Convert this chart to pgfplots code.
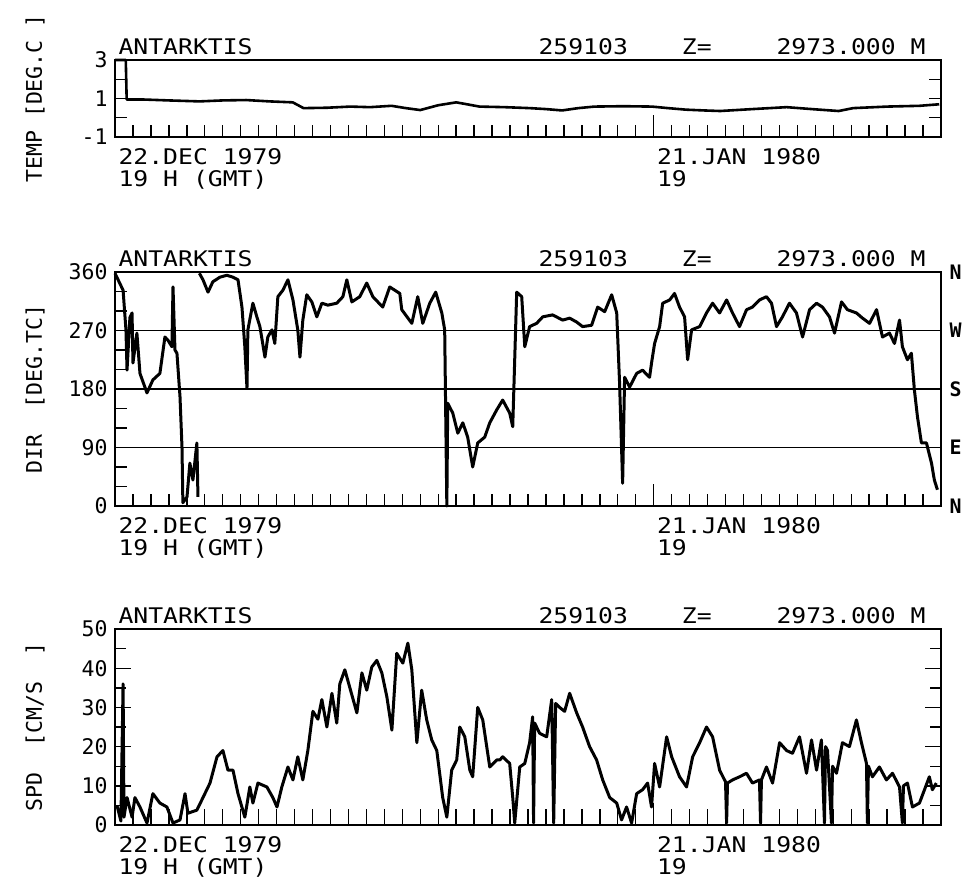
\documentclass[border=0pt]{standalone}
\usepackage{pgfplots}
\pgfplotsset{compat=1.18}
\usepackage{fontspec}
\setmainfont{DejaVu Sans Mono}[FakeStretch=1.15]
\newfontfamily\tickfam{DejaVu Sans Mono}
\newcommand\lab{\fontsize{21.6}{26}\selectfont}
\newcommand\tck{\tickfam\fontsize{21.6}{26}\selectfont}
\newcommand\rlab{\tickfam\bfseries\fontsize{20}{24}\selectfont}
\pgfplotsset{
  antark/.style={
    scale only axis, width=826bp, xmin=0, xmax=46,
    anchor=south west, clip=false, no markers,
    xtick={1,...,45}, xticklabels={}, xtick pos=left,
    extra x ticks={30}, extra x tick labels={},
    extra x tick style={major tick length=22bp},
    tick align=inside,
    major tick length=12bp, minor tick length=12bp,
    every tick/.style={black, line width=1.4bp},
    axis line style={black, line width=1.8bp},
    yticklabel style={font=\tck, xshift=-4bp},
    /pgf/number format/assume math mode=true,
    every axis y label/.style={at={(rel axis cs:0,0.5)}, xshift=-80bp, rotate=90, anchor=center, font=\tck},
  }
}
\newcommand\heads{%
  \node[anchor=base west, font=\lab, yshift=6bp] at (rel axis cs:0,1) {ANTARKTIS};
  \node[anchor=base west, font=\lab, yshift=6bp] at (rel axis cs:0.5085,1) {259103};
  \node[anchor=base west, font=\lab, yshift=6bp] at (rel axis cs:0.682,1) {Z=};
  \node[anchor=base west, font=\lab, yshift=6bp] at (rel axis cs:0.7966,1) {2973.000 M};
  \node[anchor=base west, font=\lab, yshift=-27bp] at (rel axis cs:0,0) {22.DEC 1979};
  \node[anchor=base west, font=\lab, yshift=-49bp] at (rel axis cs:0,0) {19 H (GMT)};
  \node[anchor=base west, font=\lab, yshift=-27bp] at (rel axis cs:0.652,0) {21.JAN 1980};
  \node[anchor=base west, font=\lab, yshift=-49bp] at (rel axis cs:0.652,0) {19};
}
\begin{document}
\begin{tikzpicture}
\path[use as bounding box, fill=white] (0,0) rectangle (966bp,-881bp);

% ---------------- TEMP ----------------
\begin{axis}[antark, at={(115bp,-137bp)}, height=77bp,
  ymin=-1, ymax=3, ytick={-1,1,3}, minor ytick={0,2},
  ylabel={TEMP [DEG.C~]}]
\addplot[black, line width=2.6bp, line join=round] coordinates {
(0,3) (0.6,3) (0.65,0.95) (1.5,0.95) (3.0,0.9) (4.7,0.85) (6.0,0.9) (7.3,0.92)
(8.6,0.85) (9.9,0.8) (10.5,0.5) (11.8,0.52) (13.1,0.58) (14.2,0.55) (15.4,0.62)
(16.2,0.5) (17.0,0.4) (18.0,0.65) (19.0,0.8) (19.6,0.7) (20.3,0.58) (21.7,0.55)
(23.1,0.5) (24.0,0.45) (24.9,0.38) (25.8,0.5) (26.7,0.58) (28.3,0.6) (29.9,0.58)
(30.8,0.5) (31.8,0.42) (32.8,0.38) (33.7,0.35) (35.5,0.45) (37.4,0.55) (38.8,0.45)
(40.3,0.35) (41.1,0.5) (43.0,0.58) (44.8,0.62) (45.9,0.7)
};
\heads
\end{axis}

% ---------------- DIR ----------------
\begin{axis}[antark, at={(115bp,-506bp)}, height=234bp,
  ymin=0, ymax=360, ytick={0,90,180,270,360}, ytick pos=left,
  minor ytick={30,60,120,150,210,240,300,330},
  ymajorgrids, major grid style={black, line width=1.6bp},
  unbounded coords=jump,
  ylabel={DIR~~[DEG.TC]}]
\addplot[black, line width=3bp, line join=round] coordinates {
(0,358) (0.45,332) (0.61,271) (0.67,209) (0.83,290) (0.95,297) (1.00,220) (1.22,266)
(1.39,204) (1.78,174) (2.11,194) (2.50,204) (2.78,260) (2.95,255) (3.17,245) (3.23,337)
(3.34,240) (3.45,235) (3.62,168) (3.73,91) (3.78,5) (4.01,14) (4.17,66) (4.34,40)
(4.56,97) (4.62,14) (4.66,nan)
(4.70,358) (4.90,348) (5.18,329) (5.45,345) (5.84,352) (6.23,355) (6.57,352) (6.85,348)
(7.07,306) (7.23,245) (7.35,181) (7.40,271) (7.68,312) (7.90,291) (8.07,276) (8.35,229)
(8.51,260) (8.74,271) (8.90,250) (9.07,322) (9.35,332) (9.63,348) (9.91,317) (10.18,271)
(10.30,229) (10.46,286) (10.68,325) (10.96,314) (11.24,291) (11.52,312) (11.85,309)
(12.35,312) (12.69,322) (12.91,348) (13.19,314) (13.63,322) (14.02,343) (14.36,322)
(14.91,306) (15.30,337) (15.86,327) (15.97,302) (16.53,281) (16.86,322) (17.14,281)
(17.53,312) (17.86,329) (18.20,297) (18.36,271) (18.48,0) (18.53,158) (18.81,143)
(19.09,112) (19.37,128) (19.64,106) (19.92,60) (20.20,97) (20.59,106) (20.87,128)
(21.26,148) (21.59,163) (21.98,143) (22.15,122) (22.37,329) (22.65,322) (22.82,245)
(23.09,276) (23.48,281) (23.82,291) (24.37,294) (24.93,286) (25.32,289) (25.71,283)
(26.04,276) (26.54,278) (26.88,306) (27.27,299) (27.66,325) (27.94,297) (28.10,189)
(28.27,35) (28.38,198) (28.66,183) (29.05,204) (29.38,209) (29.77,198) (29.88,220)
(30.05,250) (30.33,276) (30.50,312) (30.89,317) (31.16,327) (31.44,306) (31.72,291)
(31.89,225) (32.11,271) (32.56,276) (32.94,297) (33.28,312) (33.67,297) (34.06,317)
(34.39,297) (34.78,276) (35.17,302) (35.50,306) (35.89,317) (36.28,322) (36.56,312)
(36.84,276) (37.17,291) (37.56,312) (37.95,297) (38.29,260) (38.68,302) (39.07,312)
(39.40,306) (39.79,291) (40.07,266) (40.46,314) (40.79,302) (41.29,297) (41.63,289)
(42.02,281) (42.41,302) (42.74,260) (43.13,266) (43.41,250) (43.69,286) (43.85,245)
(44.13,225) (44.35,235) (44.52,178) (44.69,137) (44.91,97) (45.19,97) (45.47,66)
(45.63,40) (45.80,25)
};
\heads
\node[anchor=west, font=\rlab, xshift=5bp] at (rel axis cs:1,1) {N};
\node[anchor=west, font=\rlab, xshift=5bp] at (rel axis cs:1,0.75) {W};
\node[anchor=west, font=\rlab, xshift=5bp] at (rel axis cs:1,0.5) {S};
\node[anchor=west, font=\rlab, xshift=5bp] at (rel axis cs:1,0.25) {E};
\node[anchor=west, font=\rlab, xshift=5bp] at (rel axis cs:1,0) {N};
\end{axis}

% ---------------- SPD ----------------
\begin{axis}[antark, at={(115bp,-825bp)}, height=196bp,
  ymin=0, ymax=50, ytick={0,10,...,50}, minor ytick={5,15,25,35,45},
  major tick length=16bp, minor tick length=11bp,
  ylabel={SPD~~[CM/S~~]}]
\addplot[black, line width=3bp, line join=round] coordinates {
(0.11,5) (0.33,1) (0.45,36) (0.50,2) (0.67,7) (0.95,2) (1.11,7) (1.39,4.6) (1.78,0.5)
(2.11,8) (2.50,5.6) (2.89,4.6) (3.23,0.5) (3.62,1.3) (3.90,8) (4.06,3) (4.56,3.8)
(4.90,7) (5.29,10.7) (5.68,17.4) (6.01,19) (6.29,14) (6.57,14) (6.85,8) (7.23,2)
(7.51,9.7) (7.68,5.6) (7.96,10.7) (8.46,9.7) (8.79,7) (9.02,4.6) (9.29,9.7) (9.63,14.8)
(9.91,11.5) (10.18,17.4) (10.46,11.5) (10.74,19) (11.02,29) (11.30,27) (11.52,32)
(11.80,25) (12.08,33.6) (12.35,26) (12.52,36) (12.80,39.6) (13.08,35) (13.47,28.6)
(13.75,38.8) (14.02,34.4) (14.30,40.3) (14.58,42) (14.86,38.8) (15.14,32.7) (15.42,24.2)
(15.69,43.8) (16.03,41.3) (16.31,46.4) (16.53,39.6) (16.81,21) (17.08,34.4) (17.36,26.8)
(17.64,21.7) (17.92,19) (18.25,7) (18.48,2) (18.75,14) (19.03,16.6) (19.20,25)
(19.48,22.5) (19.76,14) (19.92,12.3) (20.20,30) (20.48,26.8) (20.87,14.8) (21.26,16.6)
(21.43,16.6) (21.59,17.4) (21.98,15.7) (22.15,7) (22.26,0.5) (22.54,14.8) (22.82,15.7)
(23.09,21) (23.26,27.6) (23.31,0.5) (23.37,26) (23.65,23.4) (24.04,22.5) (24.32,32)
(24.43,0.5) (24.54,31) (24.76,30) (25.04,29) (25.32,33.6) (25.71,28.6) (26.04,25)
(26.43,20) (26.82,16.6) (27.16,11.5) (27.55,7) (27.94,5.6) (28.21,1.3) (28.49,4.6)
(28.77,0.5) (29.05,8) (29.38,9) (29.66,10.7) (29.88,4.6) (30.05,15.7) (30.33,9.7)
(30.72,22.5) (31.00,17.4) (31.44,12.3) (31.83,9.7) (32.17,17.4) (32.56,21) (32.94,25)
(33.28,22.5) (33.67,14) (34.00,11) (34.06,0.5) (34.11,10.7) (34.39,11.5) (34.78,12.3)
(35.17,13.2) (35.50,10.7) (35.89,11.5) (35.95,0.5) (36.00,11.5) (36.28,14.8) (36.62,10.7)
(37.01,21) (37.40,19) (37.73,18.3) (38.12,22.5) (38.51,13.2) (38.79,21.7) (39.07,14)
(39.34,21.7) (39.51,0.5) (39.57,20) (39.68,19) (39.90,0.5) (39.96,15) (40.18,13.2)
(40.51,21) (40.90,20) (41.29,26.8) (41.57,21) (41.85,15.7) (41.90,0.5) (41.96,15)
(42.18,12.3) (42.57,14.8) (42.96,11.5) (43.30,13.2) (43.69,9.7) (43.85,0.5) (43.91,10)
(44.13,10.7) (44.41,4.6) (44.80,5.6) (45.08,9) (45.35,12.3) (45.52,9) (45.74,10.7)
};
\heads
\end{axis}
\end{tikzpicture}
\end{document}
